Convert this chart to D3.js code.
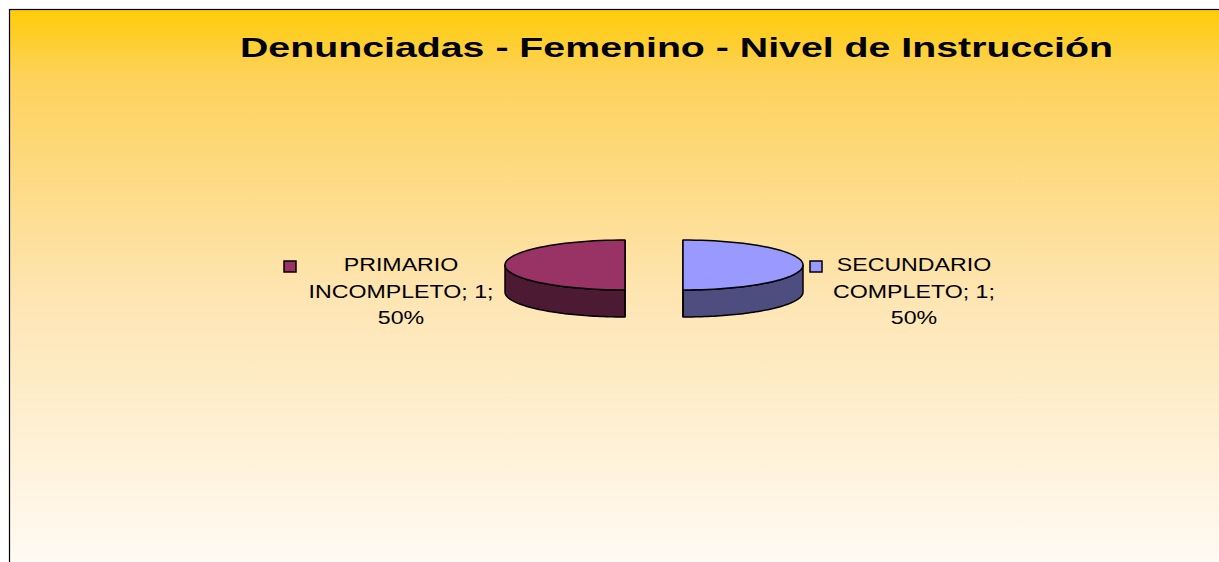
<!DOCTYPE html>
<html>
<head>
<meta charset="utf-8">
<script src="https://cdn.jsdelivr.net/npm/d3@7"></script>
<style>
  body { margin: 0; background: #fff; }
  text { font-family: Arial, "Liberation Sans", sans-serif; }
</style>
</head>
<body>
<div id="chart"></div>
<script>
// data
const title = "Denunciadas - Femenino - Nivel de Instrucción";
const categories = ["PRIMARIO INCOMPLETO", "SECUNDARIO COMPLETO"];
const values = [1, 1];
const topColors = ["#993366", "#9999FF"];
const sideColors = ["#4D1A33", "#4D4D80"];

const width = 1219, height = 562;
const svg = d3.select("#chart").append("svg")
    .attr("width", width)
    .attr("height", height);

// background gradient
const grad = svg.append("defs").append("linearGradient")
    .attr("id", "bg").attr("x1", 0).attr("y1", 0).attr("x2", 0).attr("y2", 1);
grad.append("stop").attr("offset", 0).attr("stop-color", "#FFCC08");
grad.append("stop").attr("offset", 0.12).attr("stop-color", "#FDD25C");
grad.append("stop").attr("offset", 0.5).attr("stop-color", "#FEE5B2");
grad.append("stop").attr("offset", 1).attr("stop-color", "#FFFCF8");

svg.append("rect")
    .attr("x", 9.5).attr("y", 9.5)
    .attr("width", width + 10).attr("height", height + 10)
    .attr("fill", "url(#bg)")
    .attr("stroke", "#000").attr("stroke-width", 1.2);

// stretch text horizontally like the original export
function stretch(sel, k) {
    sel.each(function() {
        const w = this.getComputedTextLength();
        d3.select(this).attr("textLength", w * k).attr("lengthAdjust", "spacingAndGlyphs");
    });
}

svg.append("text")
    .attr("x", 676.5).attr("y", 57)
    .attr("text-anchor", "middle")
    .attr("font-size", 28).attr("font-weight", "bold")
    .attr("textLength", 873).attr("lengthAdjust", "spacingAndGlyphs")
    .text(title);

// 3D pie
const cx = 654, cy = 265, rx = 120, ry = 25, depth = 27, explode = 29;
const pie = d3.pie().sort(null).startAngle(Math.PI).endAngle(3 * Math.PI);
const arcs = pie(values);

const px = (c, a) => c[0] + rx * Math.sin(a);
const py = (c, a) => c[1] - ry * Math.cos(a);
const line = d3.line();

function arcPts(c, a0, a1, dy) {
    const n = 60;
    return d3.range(n + 1).map(i => {
        const a = a0 + (a1 - a0) * i / n;
        return [px(c, a), py(c, a) + dy];
    });
}

arcs.forEach((d, i) => {
    const mid = (d.startAngle + d.endAngle) / 2;
    const c = [cx + explode * Math.sin(mid), cy - explode * Math.cos(mid) * ry / rx];
    // clip side wall to the front half (PI/2 .. 3PI/2, mod 2PI)
    const k = Math.floor((mid - Math.PI / 2) / (2 * Math.PI));
    const f0 = Math.PI / 2 + 2 * Math.PI * k, f1 = f0 + Math.PI;
    const a0 = Math.max(d.startAngle, f0), a1 = Math.min(d.endAngle, f1);
    if (a1 > a0) {
        const pts = arcPts(c, a0, a1, 0).concat(arcPts(c, a1, a0, depth));
        svg.append("path")
            .attr("d", line(pts) + "Z")
            .attr("fill", sideColors[i])
            .attr("stroke", "#000").attr("stroke-width", 1.5)
            .attr("stroke-linejoin", "round");
    }
    // cut face along the diameter, seen edge-on
    svg.append("path")
        .attr("d", line([[c[0], c[1] - ry], [c[0], c[1] + ry + depth]]))
        .attr("stroke", "#000").attr("stroke-width", 1.5);
    const top = [c].concat(arcPts(c, d.startAngle, d.endAngle, 0));
    svg.append("path")
        .attr("d", line(top) + "Z")
        .attr("fill", topColors[i])
        .attr("stroke", "#000").attr("stroke-width", 1.5)
        .attr("stroke-linejoin", "round");
});

// labels with legend keys
const total = d3.sum(values);
const labelLines = [
    ["PRIMARIO", "INCOMPLETO; " + values[0] + ";", Math.round(values[0] / total * 100) + "%"],
    ["SECUNDARIO", "COMPLETO; " + values[1] + ";", Math.round(values[1] / total * 100) + "%"]
];
const labelX = [401, 914];
const keyX = [284, 810];

labelLines.forEach((lines, i) => {
    svg.append("rect")
        .attr("x", keyX[i]).attr("y", 261)
        .attr("width", 12).attr("height", 11)
        .attr("fill", topColors[i])
        .attr("stroke", "#000").attr("stroke-width", 1.5);
    svg.selectAll(null)
        .data(lines)
        .enter()
        .append("text")
        .attr("x", labelX[i])
        .attr("y", (d, j) => 271 + j * 26.5)
        .attr("text-anchor", "middle")
        .attr("font-size", 19)
        .attr("fill", "#000")
        .text(d => d)
        .call(stretch, 1.22);
});
</script>
</body>
</html>
